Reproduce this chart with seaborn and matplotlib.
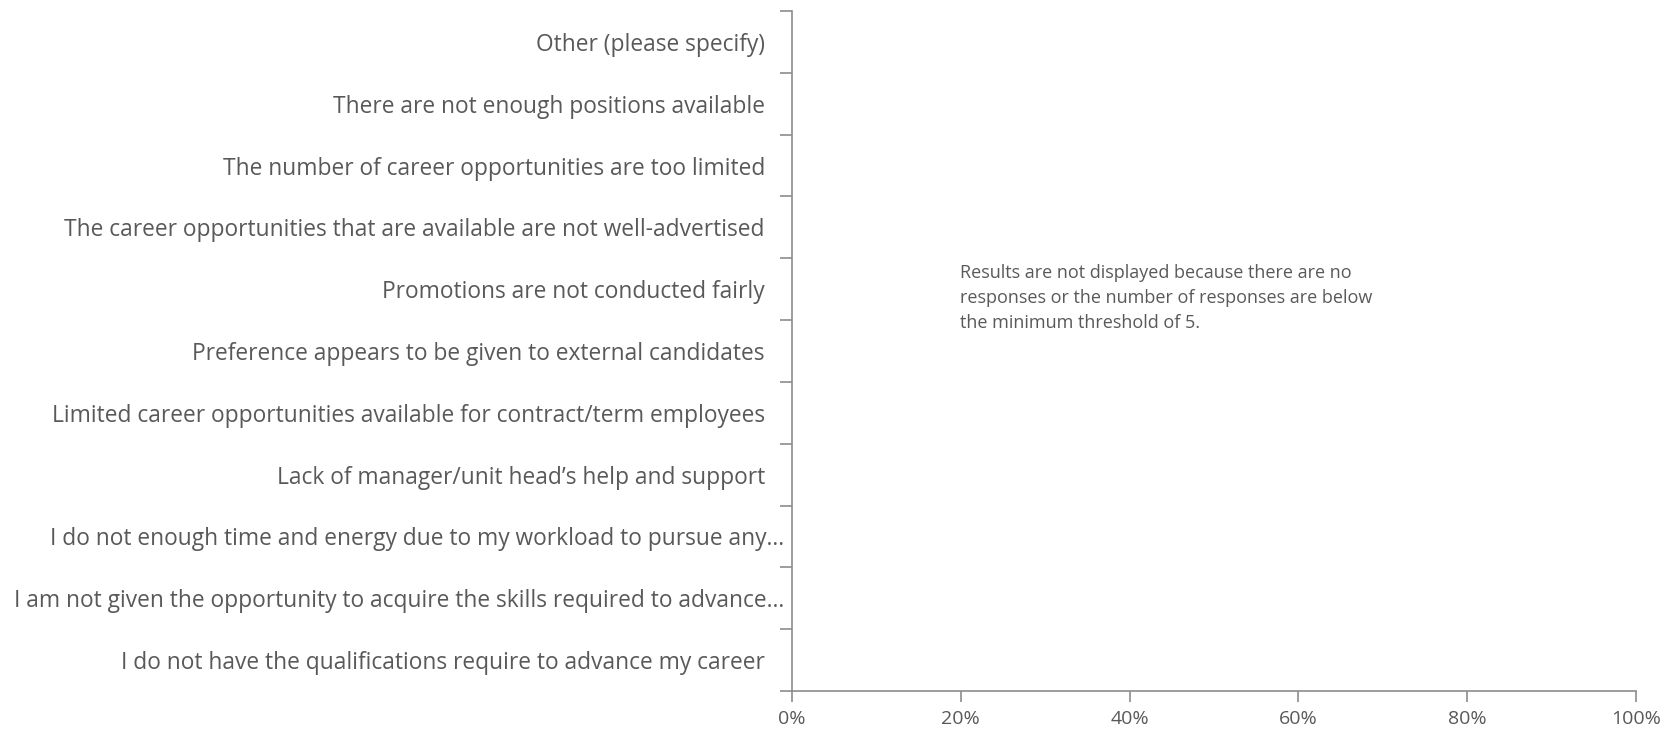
import numpy as np
import pandas as pd
import matplotlib.pyplot as plt
import seaborn as sns
from matplotlib.ticker import FixedLocator, PercentFormatter

# Survey categories (top to bottom) and their shares - no results shown
categories = [
    "Other (please specify)",
    "There are not enough positions available",
    "The number of career opportunities are too limited",
    "The career opportunities that are available are not well-advertised",
    "Promotions are not conducted fairly",
    "Preference appears to be given to external candidates",
    "Limited career opportunities available for contract/term employees",
    "Lack of manager/unit head\u2019s help and support",
    "I do not enough time and energy due to my workload to pursue any\u2026",
    "I am not given the opportunity to acquire the skills required to advance\u2026",
    "I do not have the qualifications require to advance my career",
]
values = [0.0] * len(categories)
x_ticks = [0, 0.2, 0.4, 0.6, 0.8, 1.0]
note = ("Results are not displayed because there are no\n"
        "responses or the number of responses are below\n"
        "the minimum threshold of 5.")

data = pd.DataFrame({"category": categories, "value": values})

sns.set_style("white")
plt.rcParams["font.family"] = ["Open Sans", "DejaVu Sans"]

text_color = "#595959"
axis_color = "#8c8c8c"

fig = plt.figure(figsize=(16.65, 7.31), dpi=100)
ax = fig.add_axes([0.4757, 0.0547, 0.9824 - 0.4757, 0.985 - 0.0547])

sns.barplot(data=data, x="value", y="category", ax=ax, color="#4472c4",
            linewidth=0, orient="h")

ax.set_xlim(0, 1)
ax.set_ylim(len(categories) - 0.5, -0.5)
ax.set_xticks(x_ticks)
ax.xaxis.set_major_formatter(PercentFormatter(1.0, decimals=0))
ax.set_xlabel("")
ax.set_ylabel("")

# category labels without marks, boundary ticks between categories
ax.tick_params(axis="y", which="major", length=0, pad=19.5, labelsize=16.4,
               labelcolor=text_color)
for tick, label in zip(ax.yaxis.get_major_ticks(), categories):
    if label.endswith("\u2026"):
        tick.set_pad(5.5)
ax.yaxis.set_minor_locator(FixedLocator(np.arange(-0.5, len(categories), 1.0)))
ax.tick_params(axis="y", which="minor", length=9, width=1.2, color=axis_color,
               direction="out", left=True)
ax.tick_params(axis="x", which="major", length=8, width=1.2, color=axis_color,
               direction="out", bottom=True, pad=6, labelsize=14,
               labelcolor=text_color)

for side in ["top", "right"]:
    ax.spines[side].set_visible(False)
for side in ["left", "bottom"]:
    ax.spines[side].set_color(axis_color)
    ax.spines[side].set_linewidth(1.2)

ax.text(0.199, 0.628, note, transform=ax.transAxes, ha="left", va="top",
        fontsize=13, color=text_color, linespacing=1.5)

fig.savefig("out.png", dpi=100)
